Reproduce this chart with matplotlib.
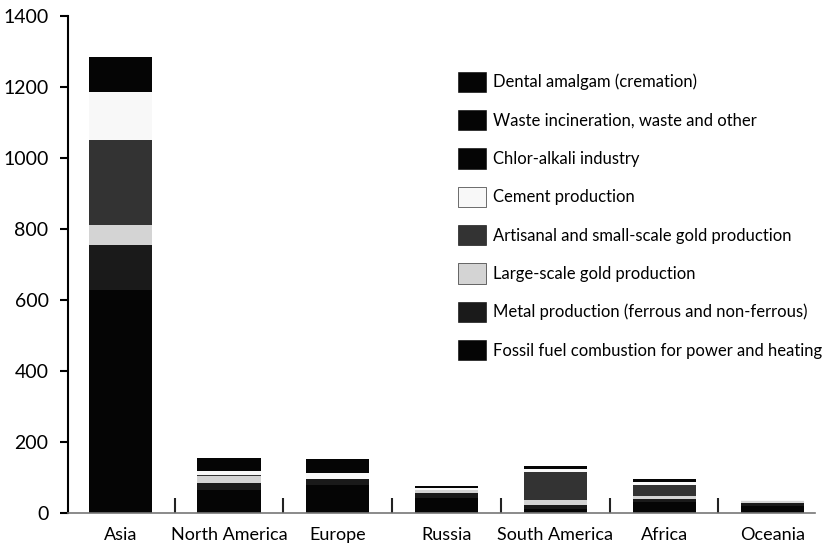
import matplotlib
matplotlib.use("Agg")
import matplotlib.pyplot as plt
import numpy as np

plt.rcParams['font.family'] = ['Lato', 'DejaVu Sans']

regions = ["Asia", "North America", "Europe", "Russia", "South America", "Africa", "Oceania"]

# Mercury emissions by source (tonnes), stacked from the bottom up
fossil_fuel   = [628, 65, 80, 42, 12, 30, 20]
metal         = [127, 20, 15, 14, 10,  9,  8]
large_gold    = [ 56, 20,  0,  8, 15,  9,  7]
artisanal     = [240,  2,  0,  0, 78, 30,  0]
cement        = [135, 10, 18,  6,  8,  8,  2]
chlor_alkali  = [ 10,  5,  6,  1,  2,  0,  0]
waste         = [ 80, 30, 28,  4,  6, 10,  1]
dental        = [ 10,  3,  5,  1,  1,  1,  0]

series = [
    ("Fossil fuel combustion for power and heating", fossil_fuel, "#050505"),
    ("Metal production (ferrous and non-ferrous)", metal, "#1a1a1a"),
    ("Large-scale gold production", large_gold, "#d4d4d4"),
    ("Artisanal and small-scale gold production", artisanal, "#333333"),
    ("Cement production", cement, "#f8f8f8"),
    ("Chlor-alkali industry", chlor_alkali, "#050505"),
    ("Waste incineration, waste and other", waste, "#050505"),
    ("Dental amalgam (cremation)", dental, "#050505"),
]

fig = plt.figure(figsize=(8.35, 5.54), dpi=100)
ax = fig.add_axes([0.0814, 0.074, 0.895, 0.897])

x = np.arange(len(regions))
bottom = np.zeros(len(regions))
handles = []
for label, vals, color in series:
    vals = np.array(vals, dtype=float)
    b = ax.bar(x, vals, width=0.58, bottom=bottom, color=color, linewidth=0, label=label)
    handles.append(b)
    bottom += vals

ax.set_xlim(-0.48, 6.39)
ax.set_ylim(0, 1400)
ax.set_yticks(np.arange(0, 1401, 200))
ax.set_xticks(x)
ax.set_xticklabels(regions)
ax.set_xticks(x[:-1] + 0.5, minor=True)

ax.tick_params(axis='y', direction='out', length=6, width=1.5, labelsize=14, pad=8)
ax.tick_params(axis='x', which='major', length=0, labelsize=13, pad=10)
ax.tick_params(axis='x', which='minor', direction='in', length=11, width=1.5, color='#222222')

for side in ('top', 'right'):
    ax.spines[side].set_visible(False)
ax.spines['left'].set_linewidth(1.5)
ax.spines['bottom'].set_linewidth(1.2)
ax.spines['bottom'].set_color('#777777')

leg = ax.legend(handles[::-1], [s[0] for s in series][::-1],
                loc='upper left', bbox_to_anchor=(0.522, 0.888),
                frameon=False, fontsize=12, handlelength=1.65, handleheight=1.5,
                handletextpad=0.45, labelspacing=1.08, borderaxespad=0, borderpad=0)
for h in leg.legend_handles:
    h.set_edgecolor('#000000')
    h.set_linewidth(0.4)

fig.savefig("out.png", dpi=100)
